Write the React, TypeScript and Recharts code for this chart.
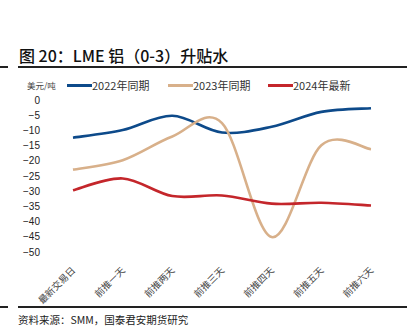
import { LineChart, Line, XAxis, YAxis } from "recharts";

const days = ["最新交易日", "前推一天", "前推两天", "前推三天", "前推四天", "前推五天", "前推六天"];
const y2022 = [-12.4, -9.9, -5.2, -10.7, -8.8, -3.9, -2.7];
const y2023 = [-22.9, -19.8, -12, -7.6, -45.1, -14.9, -16.2];
const y2024 = [-29.7, -25.8, -31.6, -31.4, -34.1, -33.8, -34.7];
const yTicks = [0, -5, -10, -15, -20, -25, -30, -35, -40, -45, -50];

const BLUE = "#0D4A8A";
const TAN = "#D8B08A";
const RED = "#C4262B";

const data = days.map((d, i) => ({ day: d, a: y2022[i], b: y2023[i], c: y2024[i] }));

// excel-style smoothed line (catmull-rom through the points)
const smooth: any = (ctx: any) => {
  let pts: number[][] = [];
  return {
    areaStart() {},
    areaEnd() {},
    lineStart() {
      pts = [];
    },
    lineEnd() {
      if (!pts.length) return;
      ctx.moveTo(pts[0][0], pts[0][1]);
      for (let i = 0; i < pts.length - 1; i++) {
        const p0 = pts[i - 1] || pts[i];
        const p1 = pts[i];
        const p2 = pts[i + 1];
        const p3 = pts[i + 2] || p2;
        ctx.bezierCurveTo(
          p1[0] + (p2[0] - p0[0]) / 6,
          p1[1] + (p2[1] - p0[1]) / 6,
          p2[0] - (p3[0] - p1[0]) / 6,
          p2[1] - (p3[1] - p1[1]) / 6,
          p2[0],
          p2[1]
        );
      }
    },
    point(x: number, y: number) {
      pts.push([+x, +y]);
    },
  };
};

const cjk = "'Noto Sans CJK SC', 'Noto Sans', sans-serif";

const DayTick = (props: any) => {
  const { x, y, payload } = props;
  const ax = x + 3;
  const ay = y + 11;
  return (
    <text x={ax} y={ay} transform={`rotate(-45, ${ax}, ${ay})`} textAnchor="end" fontSize={9.5} fill="#444" fontFamily={cjk}>
      {payload.value}
    </text>
  );
};

const legendItems = [
  { label: "2022年同期", color: BLUE, x: 67 },
  { label: "2023年同期", color: TAN, x: 168 },
  { label: "2024年最新", color: RED, x: 268 },
];

export default function App() {
  return (
    <div style={{ position: "absolute", left: 0, top: 0, width: 418, height: 334, background: "#fff", overflow: "hidden", fontFamily: cjk }}>
      <div style={{ position: "absolute", left: 19, top: 44, fontSize: 16, fontWeight: 500, color: "#111", whiteSpace: "nowrap", lineHeight: "22px" }}>
        图 20：LME 铝（0-3）升贴水
      </div>
      <div style={{ position: "absolute", left: 0, top: 66, width: 8, height: 1.5, background: "#222" }} />
      <div style={{ position: "absolute", left: 18, top: 66, width: 389, height: 1.5, background: "#222" }} />

      <div style={{ position: "absolute", left: 27, top: 78, fontSize: 8.5, color: "#444", lineHeight: "14px", whiteSpace: "nowrap" }}>美元/吨</div>
      {legendItems.map((it) => (
        <div key={it.label} style={{ position: "absolute", left: it.x, top: 77, display: "flex", alignItems: "center", whiteSpace: "nowrap" }}>
          <div style={{ width: 25, height: 3, background: it.color }} />
          <span style={{ fontSize: 11, color: "#333", lineHeight: "16px" }}>{it.label}</span>
        </div>
      ))}

      <div style={{ position: "absolute", left: 0, top: 0 }}>
        <LineChart width={418} height={334} data={data} margin={{ top: 100, right: 47, bottom: 42, left: 33 }}>
          <XAxis dataKey="day" axisLine={false} tickLine={false} interval={0} tick={<DayTick />} height={40} padding={{ left: 0, right: 0 }} />
          <YAxis
            width={40}
            domain={[-50, 0]}
            ticks={yTicks}
            axisLine={false}
            tickLine={false}
            tickSize={0}
            tickMargin={33}
            interval={0}
            tick={{ fontSize: 10, fill: "#222", fontFamily: "'Liberation Sans', Arial, sans-serif" }}
            tickFormatter={(v: number) => (v < 0 ? "\u2212" + Math.abs(v) : String(v))}
          />
          <Line dataKey="a" type={smooth} stroke={BLUE} strokeWidth={2.6} dot={false} isAnimationActive={false} />
          <Line dataKey="b" type={smooth} stroke={TAN} strokeWidth={2.6} dot={false} isAnimationActive={false} />
          <Line dataKey="c" type={smooth} stroke={RED} strokeWidth={2.6} dot={false} isAnimationActive={false} />
        </LineChart>
      </div>

      <div style={{ position: "absolute", left: 0, top: 306, width: 8, height: 1.5, background: "#222" }} />
      <div style={{ position: "absolute", left: 18, top: 306, width: 389, height: 1.5, background: "#222" }} />
      <div style={{ position: "absolute", left: 18, top: 312, fontSize: 10.5, color: "#222", lineHeight: "16px", whiteSpace: "nowrap" }}>
        资料来源：SMM，国泰君安期货研究
      </div>
    </div>
  );
}
